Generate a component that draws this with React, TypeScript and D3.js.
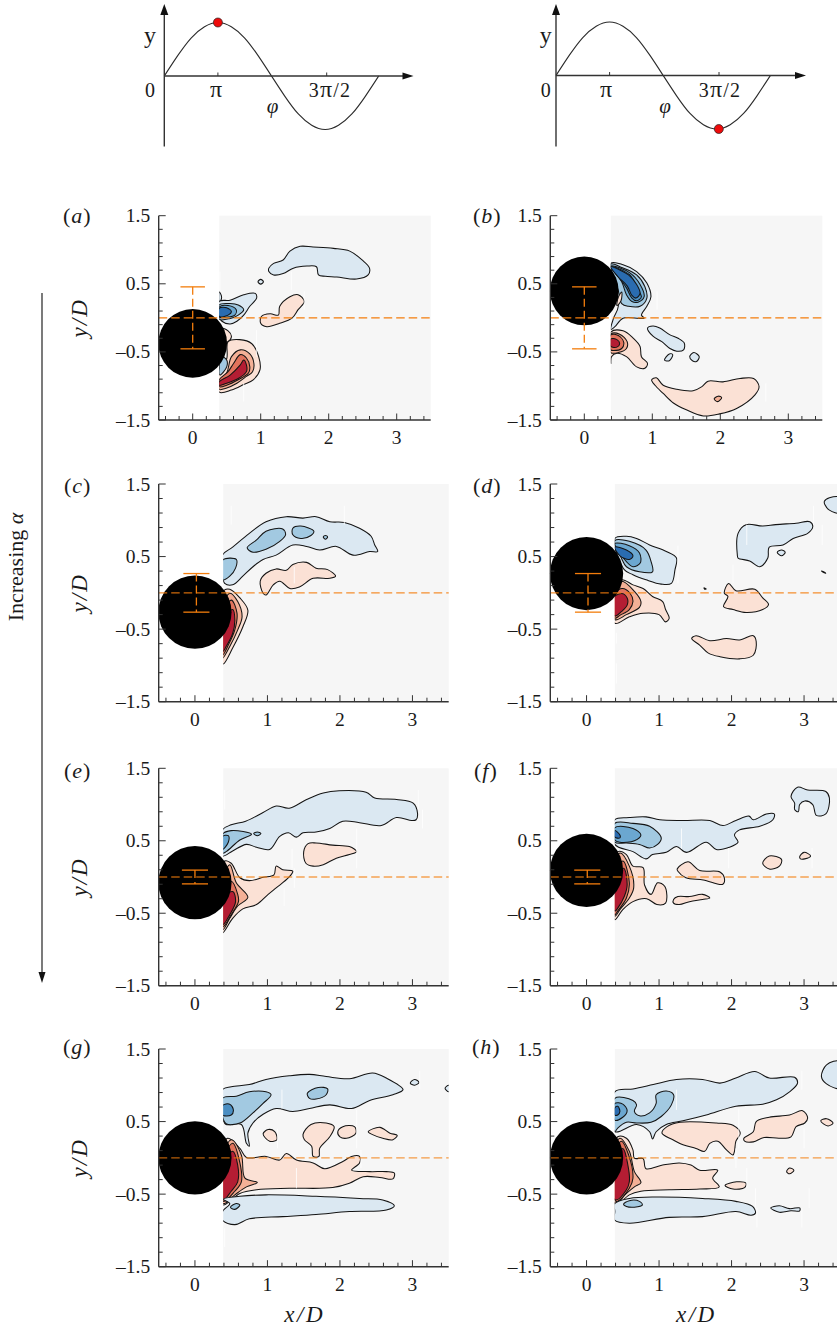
import React from 'react';
import * as d3 from 'd3';

type Pt = [number, number];
type Contour = [number, Pt[]];
type Streak = [number, number, number];

const FONT = '"Liberation Serif", "Times New Roman", serif';
const LEVEL_COLORS: Record<string, string> = {
  '-1': '#dbe8f2', '-2': '#a2c9e1', '-3': '#6ba7d0', '-4': '#4a8ec2', '-5': '#2a6cb0',
  '1': '#fbe1d5', '2': '#f4b096', '3': '#e1735c', '4': '#b41d33',
};

const contoursA: Contour[] = [
  [-1, [[1.12,0.73],[1.19,0.80],[1.33,0.85],[1.43,0.98],[1.58,1.05],[1.77,1.04],[2.07,1.02],[2.31,0.98],[2.49,0.85],[2.60,0.73],[2.58,0.63],[2.41,0.57],[2.12,0.60],[1.95,0.61],[1.85,0.63],[1.82,0.75],[1.68,0.76],[1.48,0.73],[1.33,0.65],[1.19,0.63],[1.12,0.68]]],
  [-1, [[0.96,0.53],[1.0,0.565],[1.04,0.53],[1.0,0.495]]],
  [-1, [[0.39,0.38],[0.42,0.33],[0.42,0.27],[0.39,0.24]]],
  [-1, [[0.39,0.24],[0.55,0.26],[0.75,0.34],[0.92,0.36],[0.94,0.29],[0.84,0.17],[0.75,0.04],[0.65,-0.05],[0.55,-0.09],[0.43,-0.05],[0.39,0.02]]],
  [-2, [[0.39,0.19],[0.55,0.21],[0.67,0.19],[0.75,0.12],[0.67,0.04],[0.55,-0.01],[0.39,-0.02]]],
  [-3, [[0.39,0.16],[0.52,0.18],[0.64,0.12],[0.62,0.04],[0.50,0.01],[0.39,0.01]]],
  [-5, [[0.39,0.14],[0.50,0.15],[0.57,0.09],[0.52,0.04],[0.39,0.02]]],
  [1, [[1.01,0.02],[1.14,0.06],[1.26,0.04],[1.28,0.17],[1.43,0.31],[1.55,0.34],[1.64,0.24],[1.55,0.12],[1.46,-0.005],[1.28,-0.08],[1.09,-0.13],[1.0,-0.08]]],
  [1, [[0.40,-0.15],[0.52,-0.19],[0.57,-0.27],[0.52,-0.35],[0.40,-0.32]]],
  [1, [[0.52,-0.35],[0.69,-0.32],[0.87,-0.38],[0.97,-0.57],[0.99,-0.76],[0.89,-0.91],[0.75,-0.98],[0.57,-1.06],[0.39,-1.09],[0.39,-0.75],[0.50,-0.6]]],
  [2, [[0.57,-0.57],[0.70,-0.47],[0.84,-0.53],[0.90,-0.67],[0.88,-0.79],[0.79,-0.86],[0.65,-0.96],[0.50,-1.03],[0.39,-1.05],[0.39,-0.94],[0.50,-0.81]]],
  [3, [[0.60,-0.67],[0.70,-0.54],[0.79,-0.59],[0.84,-0.72],[0.82,-0.81],[0.67,-0.91],[0.50,-0.99],[0.39,-1.01],[0.39,-0.91],[0.52,-0.79]]],
  [4, [[0.70,-0.69],[0.75,-0.62],[0.79,-0.69],[0.79,-0.79],[0.67,-0.89],[0.50,-0.96],[0.39,-0.99],[0.39,-0.94],[0.55,-0.84]]],
  [-2, [[0.43,-0.57],[0.50,-0.62],[0.50,-0.72],[0.40,-0.84],[0.39,-0.72]]],
];
const contoursB: Contour[] = [
  [-1, [[0.39,0.80],[0.57,0.78],[0.77,0.68],[0.92,0.51],[0.98,0.31],[0.92,0.17],[0.84,0.04],[0.88,-0.005],[0.57,-0.005],[0.45,-0.13],[0.39,-0.17],[0.43,-0.005],[0.5,0.17]]],
  [-2, [[0.39,0.79],[0.55,0.74],[0.77,0.63],[0.89,0.46],[0.92,0.29],[0.82,0.17],[0.65,0.17],[0.55,0.21],[0.5,0.4]]],
  [-3, [[0.39,0.76],[0.67,0.66],[0.82,0.49],[0.88,0.31],[0.79,0.23],[0.70,0.24],[0.62,0.34],[0.55,0.53]]],
  [-4, [[0.39,0.75],[0.67,0.63],[0.77,0.44],[0.84,0.31],[0.77,0.25],[0.70,0.29],[0.62,0.44],[0.52,0.58]]],
  [-5, [[0.39,0.75],[0.65,0.63],[0.77,0.49],[0.82,0.36],[0.76,0.29],[0.70,0.33],[0.63,0.47],[0.50,0.6]]],
  [1, [[0.5,0.3],[0.55,0.38],[0.54,0.25],[0.48,0.18]]],
  [-1, [[0.93,-0.15],[1.01,-0.12],[1.11,-0.15],[1.26,-0.25],[1.38,-0.30],[1.47,-0.37],[1.46,-0.47],[1.36,-0.49],[1.26,-0.45],[1.14,-0.35],[1.01,-0.27]]],
  [-1, [[1.18,-0.62],[1.25,-0.53],[1.30,-0.54],[1.25,-0.63]]],
  [-1, [[1.55,-0.57],[1.61,-0.51],[1.69,-0.57],[1.65,-0.64],[1.59,-0.63]]],
  [1, [[0.39,-0.21],[0.57,-0.19],[0.72,-0.30],[0.82,-0.42],[0.84,-0.57],[0.93,-0.67],[0.89,-0.74],[0.77,-0.72],[0.62,-0.57],[0.48,-0.52],[0.40,-0.57],[0.39,-0.67]]],
  [2, [[0.39,-0.24],[0.52,-0.24],[0.63,-0.35],[0.62,-0.45],[0.50,-0.51],[0.39,-0.51]]],
  [3, [[0.39,-0.25],[0.50,-0.26],[0.58,-0.36],[0.55,-0.45],[0.43,-0.48],[0.39,-0.47]]],
  [4, [[0.39,-0.31],[0.48,-0.32],[0.52,-0.38],[0.48,-0.43],[0.39,-0.42]]],
  [1, [[0.99,-0.91],[1.06,-0.88],[1.16,-0.99],[1.36,-1.05],[1.60,-1.07],[1.73,-1.01],[1.82,-0.93],[2.04,-0.94],[2.29,-0.89],[2.49,-0.89],[2.57,-1.01],[2.51,-1.13],[2.24,-1.33],[1.99,-1.41],[1.75,-1.44],[1.50,-1.35],[1.31,-1.25],[1.16,-1.11],[1.04,-0.99]]],
  [2, [[1.91,-1.19],[1.97,-1.15],[2.02,-1.17],[1.96,-1.23]]],
];
const contoursC: Contour[] = [
  [-1, [[0.38,0.52],[0.52,0.63],[0.75,0.82],[0.98,0.98],[1.26,1.05],[1.49,1.03],[1.67,1.05],[1.86,0.98],[2.06,0.97],[2.27,0.89],[2.43,0.78],[2.48,0.66],[2.52,0.57],[2.41,0.57],[2.18,0.52],[1.95,0.64],[1.72,0.59],[1.54,0.64],[1.35,0.66],[1.12,0.52],[0.94,0.46],[0.80,0.36],[0.66,0.23],[0.52,0.11],[0.41,0.13],[0.38,0.23]]],
  [-2, [[0.72,0.62],[0.85,0.73],[0.98,0.85],[1.21,0.88],[1.25,0.80],[1.17,0.71],[0.98,0.60],[0.80,0.56]]],
  [-2, [[1.35,0.89],[1.46,0.92],[1.64,0.85],[1.60,0.79],[1.46,0.75],[1.35,0.80]]],
  [-2, [[1.77,0.77],[1.80,0.79],[1.83,0.77],[1.80,0.74]]],
  [-2, [[0.38,0.45],[0.57,0.46],[0.56,0.34],[0.48,0.23],[0.38,0.18]]],
  [1, [[0.90,0.16],[0.98,0.27],[1.12,0.33],[1.26,0.31],[1.35,0.39],[1.54,0.42],[1.67,0.34],[1.83,0.32],[1.94,0.23],[1.86,0.20],[1.63,0.20],[1.44,0.08],[1.31,0.06],[1.17,0.16],[1.08,0.11],[0.98,-0.03],[0.94,-0.005]]],
  [1, [[0.41,0.04],[0.48,0.05],[0.62,-0.07],[0.73,-0.24],[0.66,-0.47],[0.52,-0.76],[0.39,-0.98],[0.36,-0.88],[0.36,-0.74],[0.3,-0.47],[0.3,-0.24]]],
  [2, [[0.48,-0.005],[0.59,-0.12],[0.65,-0.33],[0.59,-0.51],[0.48,-0.74],[0.38,-0.90],[0.36,-0.79],[0.3,-0.5]]],
  [3, [[0.50,-0.10],[0.58,-0.28],[0.55,-0.51],[0.46,-0.72],[0.38,-0.86],[0.36,-0.7],[0.3,-0.5]]],
  [4, [[0.52,-0.23],[0.55,-0.37],[0.52,-0.56],[0.43,-0.74],[0.38,-0.81],[0.3,-0.5]]],
];
const contoursD: Contour[] = [
  [-1, [[0.39,0.75],[0.55,0.78],[0.69,0.75],[0.87,0.66],[1.10,0.57],[1.24,0.48],[1.22,0.32],[1.17,0.13],[1.03,0.12],[0.82,0.18],[0.64,0.25],[0.52,0.32]]],
  [-2, [[0.39,0.72],[0.59,0.71],[0.82,0.59],[0.89,0.43],[0.91,0.29],[0.73,0.29],[0.55,0.36],[0.48,0.48]]],
  [-3, [[0.39,0.68],[0.59,0.65],[0.73,0.55],[0.74,0.41],[0.64,0.36],[0.55,0.43],[0.46,0.55]]],
  [-5, [[0.39,0.63],[0.55,0.59],[0.64,0.51],[0.59,0.46],[0.46,0.51]]],
  [1, [[0.48,0.18],[0.64,0.11],[0.78,0.06],[0.91,-0.05],[1.05,-0.12],[1.09,-0.23],[1.14,-0.35],[1.09,-0.40],[1.0,-0.30],[0.78,-0.28],[0.59,-0.33],[0.39,-0.42],[0.3,-0.1]]],
  [2, [[0.48,0.16],[0.66,0.02],[0.75,-0.12],[0.73,-0.20],[0.55,-0.30],[0.39,-0.37],[0.3,-0.1]]],
  [3, [[0.49,0.06],[0.60,-0.005],[0.64,-0.12],[0.59,-0.23],[0.46,-0.31],[0.39,-0.35],[0.3,-0.1]]],
  [4, [[0.48,-0.01],[0.56,-0.07],[0.56,-0.17],[0.48,-0.26],[0.39,-0.32],[0.3,-0.14]]],
  [-1, [[2.08,0.52],[2.09,0.82],[2.20,0.94],[2.43,0.92],[2.61,0.94],[2.89,0.96],[3.08,0.98],[3.12,0.91],[3.05,0.82],[2.85,0.75],[2.71,0.66],[2.52,0.63],[2.50,0.48],[2.39,0.36],[2.25,0.44],[2.09,0.48]]],
  [-1, [[2.63,0.56],[2.69,0.59],[2.74,0.56],[2.69,0.51]]],
  [-1, [[3.28,1.26],[3.35,1.31],[3.5,1.31],[3.5,1.10],[3.35,1.14],[3.29,1.21]]],
  [-1, [[3.24,0.30],[3.27,0.29],[3.30,0.27],[3.27,0.28]]],
  [-1, [[1.62,0.07],[1.64,0.06],[1.65,0.055],[1.63,0.05]]],
  [1, [[1.90,-0.005],[1.96,0.13],[2.06,0.03],[2.32,0.05],[2.43,-0.07],[2.51,-0.16],[2.43,-0.23],[2.20,-0.27],[2.02,-0.23],[1.89,-0.19],[1.95,-0.05]]],
  [1, [[1.45,-0.63],[1.51,-0.59],[1.70,-0.66],[1.93,-0.63],[2.11,-0.65],[2.30,-0.59],[2.34,-0.67],[2.30,-0.86],[2.11,-0.91],[1.84,-0.88],[1.68,-0.83],[1.56,-0.72]]],
];
const contoursE: Contour[] = [
  [-1, [[0.38,0.65],[0.50,0.72],[0.70,0.77],[0.94,0.89],[1.12,0.98],[1.30,0.95],[1.54,1.07],[1.77,1.16],[1.99,1.19],[2.36,1.17],[2.48,1.09],[2.78,1.07],[3.01,1.02],[3.07,0.88],[3.05,0.79],[2.99,0.78],[2.78,0.82],[2.57,0.71],[2.27,0.75],[2.04,0.77],[1.86,0.67],[1.67,0.62],[1.49,0.61],[1.40,0.55],[1.29,0.61],[1.17,0.56],[1.03,0.38],[0.85,0.41],[0.71,0.45],[0.52,0.36],[0.38,0.29]]],
  [-2, [[0.38,0.59],[0.50,0.64],[0.78,0.59],[0.62,0.51],[0.43,0.35],[0.38,0.33]]],
  [-3, [[0.38,0.56],[0.46,0.57],[0.46,0.48],[0.38,0.38]]],
  [-2, [[0.81,0.60],[0.86,0.62],[0.91,0.60],[0.86,0.57]]],
  [1, [[0.41,0.22],[0.50,0.19],[0.62,-0.01],[0.75,-0.05],[0.94,-0.005],[1.09,0.03],[1.12,0.15],[1.21,0.10],[1.35,0.08],[1.29,-0.01],[1.12,-0.15],[1.01,-0.24],[0.85,-0.38],[0.66,-0.44],[0.52,-0.57],[0.38,-0.77],[0.36,-0.61],[0.3,-0.34]]],
  [2, [[0.48,0.17],[0.57,-0.08],[0.73,-0.28],[0.59,-0.40],[0.48,-0.57],[0.38,-0.73],[0.3,-0.4]]],
  [3, [[0.50,-0.06],[0.59,-0.24],[0.60,-0.34],[0.50,-0.52],[0.38,-0.69],[0.3,-0.4]]],
  [4, [[0.52,-0.20],[0.56,-0.34],[0.48,-0.52],[0.38,-0.66],[0.3,-0.4]]],
  [1, [[1.50,0.35],[1.56,0.46],[1.67,0.47],[1.90,0.44],[2.13,0.42],[2.23,0.35],[2.13,0.31],[1.95,0.26],[1.77,0.17],[1.63,0.15],[1.53,0.19]]],
];
const contoursF: Contour[] = [
  [-1, [[0.39,0.79],[0.59,0.82],[0.82,0.83],[1.01,0.79],[1.33,0.78],[1.70,0.78],[1.88,0.71],[2.06,0.78],[2.24,0.84],[2.30,0.79],[2.48,0.87],[2.59,0.87],[2.57,0.79],[2.39,0.70],[2.11,0.65],[2.04,0.58],[2.09,0.48],[1.97,0.41],[1.79,0.38],[1.65,0.48],[1.38,0.34],[1.24,0.42],[1.10,0.34],[0.91,0.31],[0.82,0.25],[0.64,0.35],[0.39,0.45]]],
  [-2, [[0.39,0.74],[0.64,0.74],[0.87,0.70],[1.03,0.54],[0.98,0.45],[0.87,0.40],[0.73,0.45],[0.55,0.47],[0.39,0.48]]],
  [-3, [[0.39,0.68],[0.64,0.67],[0.75,0.58],[0.66,0.50],[0.46,0.48],[0.39,0.51]]],
  [-5, [[0.39,0.64],[0.46,0.58],[0.46,0.54],[0.39,0.55]]],
  [1, [[0.43,0.35],[0.55,0.31],[0.64,0.15],[0.78,0.13],[0.80,-0.11],[0.89,-0.24],[0.98,-0.08],[1.08,-0.13],[1.09,-0.36],[0.97,-0.38],[0.83,-0.30],[0.64,-0.34],[0.50,-0.45],[0.39,-0.59],[0.36,-0.4],[0.3,-0.06]]],
  [2, [[0.46,0.33],[0.59,0.15],[0.65,-0.15],[0.59,-0.29],[0.46,-0.45],[0.39,-0.54],[0.3,-0.2]]],
  [3, [[0.50,0.22],[0.59,-0.08],[0.55,-0.29],[0.43,-0.47],[0.39,-0.52],[0.3,-0.2]]],
  [4, [[0.51,0.12],[0.56,-0.11],[0.52,-0.27],[0.43,-0.43],[0.39,-0.47],[0.3,-0.2]]],
  [1, [[1.25,0.11],[1.40,0.21],[1.56,0.09],[1.84,0.07],[1.90,-0.01],[1.88,-0.10],[1.61,-0.04],[1.37,-0.01],[1.26,0.08]]],
  [1, [[1.20,-0.31],[1.26,-0.27],[1.42,-0.27],[1.60,-0.24],[1.70,-0.29],[1.60,-0.31],[1.42,-0.34],[1.28,-0.38],[1.20,-0.36]]],
  [1, [[2.43,0.19],[2.52,0.29],[2.69,0.24],[2.66,0.15],[2.52,0.11]]],
  [1, [[2.94,0.28],[3.00,0.34],[3.09,0.29],[3.01,0.25],[2.95,0.25]]],
  [-1, [[2.82,1.11],[2.91,1.24],[3.05,1.20],[3.30,1.18],[3.35,1.09],[3.30,0.87],[3.17,0.85],[3.12,1.00],[3.01,1.05],[2.94,1.00],[2.92,0.90],[2.87,0.93],[2.87,1.02]]],
];
const contoursG: Contour[] = [
  [-1, [[0.38,0.94],[0.50,0.98],[0.75,1.01],[0.98,1.08],[1.30,1.13],[1.58,1.15],[1.81,1.12],[2.13,1.09],[2.45,1.17],[2.64,1.10],[2.87,0.94],[2.73,0.87],[2.41,0.79],[2.16,0.68],[1.86,0.73],[1.58,0.68],[1.35,0.64],[1.12,0.68],[0.94,0.60],[0.80,0.48],[0.73,0.34],[0.75,0.16],[0.71,0.20],[0.64,0.46],[0.43,0.46],[0.38,0.55]]],
  [-2, [[0.38,0.82],[0.57,0.85],[0.75,0.91],[0.98,0.91],[1.05,0.87],[0.94,0.75],[0.80,0.62],[0.62,0.48],[0.43,0.47],[0.38,0.57]]],
  [-4, [[0.38,0.72],[0.48,0.74],[0.53,0.66],[0.50,0.59],[0.38,0.59]]],
  [-2, [[1.55,0.89],[1.70,0.97],[1.83,0.95],[1.81,0.87],[1.67,0.81],[1.58,0.82]]],
  [-1, [[2.97,1.03],[3.03,1.08],[3.09,1.04],[3.03,1.00]]],
  [-1, [[3.45,0.96],[3.50,1.00],[3.54,0.96],[3.50,0.91]]],
  [1, [[0.94,0.33],[1.01,0.39],[1.10,0.36],[1.13,0.25],[1.03,0.23]]],
  [1, [[1.49,0.32],[1.60,0.46],[1.81,0.48],[1.92,0.43],[1.86,0.29],[1.72,0.13],[1.71,0.02],[1.63,0.02],[1.61,0.16],[1.51,0.25]]],
  [1, [[1.97,0.36],[2.04,0.43],[2.20,0.43],[2.22,0.34],[2.09,0.27],[2.00,0.29]]],
  [1, [[2.39,0.36],[2.55,0.42],[2.69,0.34],[2.79,0.31],[2.73,0.25],[2.59,0.27],[2.45,0.32]]],
  [1, [[0.45,0.27],[0.62,0.13],[0.71,0.005],[0.98,0.02],[1.17,-0.03],[1.26,0.06],[1.40,-0.03],[1.63,-0.07],[1.79,-0.15],[2.04,-0.05],[2.16,0.02],[2.27,0.02],[2.27,-0.07],[2.16,-0.17],[2.41,-0.19],[2.64,-0.19],[2.75,-0.21],[2.73,-0.29],[2.55,-0.27],[2.32,-0.26],[2.13,-0.35],[1.90,-0.41],[1.30,-0.42],[0.85,-0.44],[0.62,-0.49],[0.39,-0.65],[0.36,-0.51],[0.3,-0.19]]],
  [2, [[0.50,0.25],[0.64,0.04],[0.69,-0.28],[0.86,-0.34],[0.71,-0.40],[0.55,-0.51],[0.39,-0.63],[0.3,-0.3]]],
  [3, [[0.52,0.20],[0.62,-0.07],[0.64,-0.33],[0.55,-0.46],[0.39,-0.60],[0.3,-0.3]]],
  [4, [[0.52,0.09],[0.59,-0.10],[0.59,-0.33],[0.50,-0.46],[0.39,-0.58],[0.3,-0.3]]],
  [-1, [[0.39,-0.57],[0.62,-0.53],[0.98,-0.51],[1.67,-0.53],[2.27,-0.56],[2.59,-0.58],[2.75,-0.66],[2.64,-0.72],[2.13,-0.74],[1.67,-0.78],[1.21,-0.81],[0.75,-0.84],[0.55,-0.92],[0.38,-0.86],[0.38,-0.74],[0.48,-0.63]]],
  [-2, [[0.49,-0.68],[0.57,-0.63],[0.62,-0.65],[0.55,-0.71]]],
];
const contoursH: Contour[] = [
  [-1, [[0.39,0.91],[0.64,0.95],[0.92,1.01],[1.24,1.08],[1.60,1.08],[1.84,1.03],[2.06,1.10],[2.32,1.19],[2.52,1.10],[2.87,1.11],[2.91,1.03],[2.80,0.91],[2.62,0.80],[2.43,0.74],[2.06,0.71],[1.65,0.59],[1.33,0.51],[1.10,0.46],[0.96,0.36],[0.91,0.26],[0.87,0.36],[0.69,0.46],[0.39,0.36]]],
  [-2, [[0.39,0.82],[0.64,0.79],[0.69,0.73],[0.66,0.64],[0.73,0.58],[0.87,0.62],[0.96,0.75],[0.96,0.87],[1.10,0.92],[1.20,0.87],[1.17,0.73],[1.03,0.57],[0.89,0.49],[0.69,0.48],[0.55,0.49],[0.43,0.41],[0.39,0.36]]],
  [-3, [[0.39,0.75],[0.50,0.74],[0.56,0.65],[0.50,0.56],[0.39,0.52]]],
  [-5, [[0.39,0.69],[0.43,0.71],[0.46,0.64],[0.43,0.59],[0.39,0.59]]],
  [-1, [[3.24,1.12],[3.31,1.28],[3.5,1.33],[3.5,0.96],[3.31,1.02]]],
  [1, [[1.04,0.34],[1.11,0.43],[1.29,0.49],[1.79,0.48],[2.02,0.45],[2.12,0.34],[2.06,0.23],[2.04,0.09],[2.02,0.04],[1.93,0.11],[1.81,0.23],[1.70,0.20],[1.63,0.09],[1.51,0.13],[1.33,0.18],[1.19,0.25]]],
  [1, [[2.17,0.27],[2.30,0.36],[2.34,0.50],[2.52,0.56],[2.80,0.59],[2.98,0.65],[3.05,0.55],[3.01,0.48],[2.89,0.43],[2.82,0.29],[2.66,0.27],[2.45,0.28],[2.30,0.22],[2.18,0.23]]],
  [1, [[3.23,0.51],[3.31,0.54],[3.40,0.48],[3.33,0.44]]],
  [1, [[2.76,-0.19],[2.80,-0.14],[2.86,-0.17],[2.80,-0.22]]],
  [1, [[1.91,-0.38],[2.07,-0.33],[2.20,-0.35],[2.18,-0.41],[2.02,-0.43]]],
  [-1, [[2.54,-0.69],[2.66,-0.66],[2.80,-0.70],[2.94,-0.69],[2.94,-0.73],[2.82,-0.73],[2.66,-0.75]]],
  [1, [[0.43,0.29],[0.55,0.27],[0.64,0.11],[0.66,-0.005],[0.78,-0.01],[0.82,-0.15],[1.05,-0.10],[1.28,-0.07],[1.44,-0.10],[1.56,-0.17],[1.81,-0.17],[1.74,-0.28],[1.83,-0.40],[1.56,-0.43],[1.14,-0.44],[0.75,-0.46],[0.59,-0.51],[0.41,-0.65],[0.36,-0.56],[0.3,-0.23]]],
  [2, [[0.46,0.27],[0.59,0.09],[0.66,-0.19],[0.75,-0.34],[0.66,-0.40],[0.55,-0.49],[0.40,-0.63],[0.3,-0.23]]],
  [3, [[0.48,0.23],[0.58,0.04],[0.64,-0.28],[0.59,-0.42],[0.41,-0.60],[0.3,-0.25]]],
  [4, [[0.50,0.13],[0.57,-0.10],[0.59,-0.33],[0.55,-0.44],[0.40,-0.58],[0.3,-0.25]]],
  [-1, [[0.39,-0.63],[0.59,-0.56],[0.96,-0.54],[1.60,-0.56],[2.06,-0.60],[2.29,-0.67],[2.33,-0.76],[2.27,-0.79],[2.06,-0.74],[1.60,-0.81],[1.14,-0.82],[0.59,-0.90],[0.39,-0.86],[0.39,-0.74]]],
  [-2, [[0.51,-0.64],[0.59,-0.59],[0.73,-0.60],[0.77,-0.65],[0.66,-0.68],[0.55,-0.67]]],
];

const streaksA: Streak[] = [[0.40,0.68,0.4],[1.45,0.68,0.41],[1.64,0.39,0.12],[0.94,-0.18,-0.57],[0.75,-0.96,-1.23]];
const streaksB: Streak[] = [[1.07,0.39,0.12],[2.67,-0.96,-1.23]];
const streaksC: Streak[] = [[0.5,1.2,0.94],[2.06,1.2,0.94],[1.37,0.36,0.13]];
const streaksD: Streak[] = [[2.21,0.94,0.66],[3.13,1.2,0.94],[3.25,0.94,0.66],[1.26,0.65,0.13],[2.02,0.39,0.13],[0.41,-0.55,-0.7],[0.41,-0.97,-1.25]];
const streaksE: Streak[] = [[0.41,1.2,0.93],[3.08,1.2,0.93],[3.14,0.93,0.67],[2.23,0.67,0.12],[1.34,0.39,0.12],[1.37,0.12,-0.15],[1.23,-0.15,-0.4]];
const streaksF: Streak[] = [[1.31,0.67,0.39],[1.96,0.4,0.12],[3.11,0.4,0.12]];
const streaksG: Streak[] = [[1.2,0.94,0.68],[3.1,1.2,0.94],[2.23,0.66,0.13],[1.14,0.4,0.13],[1.4,-0.14,-0.42],[2.29,0.11,-0.14],[0.41,-0.97,-1.23]];
const streaksH: Streak[] = [[1.24,0.94,0.66],[2.1,0.68,0.13],[2.97,1.2,0.94],[3.0,0.41,0.13],[2.06,0.13,-0.14],[2.21,-0.14,-0.42],[2.33,-0.42,-0.69],[2.35,-0.69,-0.96],[2.97,-0.69,-0.96],[3.07,-0.42,-0.69]];

const panelLetters = ['a','b','c','d','e','f','g','h'];
const cylinderCentres = [-0.375, 0.395, -0.266, 0.266, -0.078, 0.09, 0, 0];
const errorHalfAmplitudes = [0.455, 0.455, 0.266, 0.266, 0.095, 0.095, 0, 0];
const errorCentres = [0, 0, 0.02, 0.02, 0, 0.01, 0, 0];
const contourSets = [contoursA, contoursB, contoursC, contoursD, contoursE, contoursF, contoursG, contoursH];
const streakSets = [streaksA, streaksB, streaksC, streaksD, streaksE, streaksF, streaksG, streaksH];
const zeroLineOpacity = [1, 1, 0.85, 0.85, 0.7, 0.7, 0.75, 0.75];

const schematicPhase = [0, 0.125, 0.25, 0.375, 0.5, 0.625, 0.75, 0.875, 1, 1.125, 1.25, 1.375, 1.5, 1.625, 1.75, 1.875, 2];
const schematicValue = [0, 0.38, 0.71, 0.92, 1, 0.92, 0.71, 0.38, 0, -0.38, -0.71, -0.92, -1, -0.92, -0.71, -0.38, 0];

const layout = [
  { left: 158.7, width: 272, top: 215.7, bottom: 420, labelX: 63, labelY: 223 },
  { left: 550.3, width: 272, top: 215.7, bottom: 420, labelX: 473, labelY: 223 },
  { left: 158.7, width: 290, top: 484, bottom: 701.7, labelX: 64, labelY: 493 },
  { left: 550.3, width: 290, top: 484, bottom: 701.7, labelX: 473, labelY: 493 },
  { left: 158.7, width: 290, top: 768.3, bottom: 985.7, labelX: 64, labelY: 778 },
  { left: 550.3, width: 290, top: 768.3, bottom: 985.7, labelX: 474, labelY: 778 },
  { left: 158.7, width: 290, top: 1049, bottom: 1266.7, labelX: 63, labelY: 1054 },
  { left: 550.3, width: 290, top: 1049, bottom: 1266.7, labelX: 472, labelY: 1054 },
];

const ORANGE = '#f37d0c';
const AXIS = '#333333';
const xMinor = d3.range(-0.4, 3.5, 0.2).map((v) => Math.round(v * 10) / 10);
const yMinor = d3.range(-1.5, 1.55, 0.2).map((v) => Math.round(v * 10) / 10);
const xLabels = [0, 1, 2, 3];
const yLabels = [1.5, 0.5, -0.5, -1.5];

function Panel({ i }: { i: number }) {
  const g = layout[i];
  const x = d3.scaleLinear().domain([-0.5, 3.5]).range([g.left, g.left + g.width]);
  const y = d3.scaleLinear().domain([-1.5, 1.5]).range([g.bottom, g.top]);
  const path = d3.line<Pt>().x((d) => x(d[0])).y((d) => y(d[1])).curve(d3.curveCatmullRomClosed.alpha(0.5));
  const cx = x(0);
  const cy = y(cylinderCentres[i]);
  const rad = Math.abs(x(0.505) - x(0));
  const amp = errorHalfAmplitudes[i];
  const ex = x(errorCentres[i]);
  const capHalf = Math.abs(x(0.18) - x(0));
  const gx = x(0.39);
  return (
    <g>
      <clipPath id={`clip-${i}`}>
        <rect x={gx} y={g.top} width={x(3.5) - gx} height={g.bottom - g.top} />
      </clipPath>
      <rect x={gx} y={g.top} width={x(3.5) - gx} height={g.bottom - g.top} fill="#f6f6f6" />
      <g clipPath={`url(#clip-${i})`}>
        {contourSets[i].map(([lev, pts], k) => (
          <path key={k} d={path(pts) || ''} fill={LEVEL_COLORS[String(lev)]} stroke="#141414" strokeWidth={1.05} strokeLinejoin="round" />
        ))}
        {streakSets[i].map(([sx, a, b], k) => (
          <line key={k} x1={x(sx)} x2={x(sx)} y1={y(a)} y2={y(b)} stroke="#ffffff" strokeWidth={0.8} />
        ))}
      </g>
      <circle cx={cx} cy={cy} r={rad} fill="#000" />
      <line x1={x(-0.5)} x2={x(3.5)} y1={y(0)} y2={y(0)} stroke={ORANGE} strokeWidth={1.4} strokeOpacity={zeroLineOpacity[i]} strokeDasharray="8.5,4" />
      {amp > 0 && (
        <g stroke={ORANGE} strokeWidth={1.3} fill="none">
          <line x1={ex} x2={ex} y1={y(amp)} y2={y(-amp)} strokeDasharray="8,4" />
          <line x1={ex - capHalf} x2={ex + capHalf} y1={y(amp)} y2={y(amp)} />
          <line x1={ex - capHalf} x2={ex + capHalf} y1={y(-amp)} y2={y(-amp)} />
        </g>
      )}
      <line x1={g.left} x2={g.left} y1={g.top} y2={g.bottom} stroke={AXIS} strokeWidth={1.4} />
      <line x1={g.left} x2={x(3.5)} y1={g.bottom} y2={g.bottom} stroke={AXIS} strokeWidth={1.4} />
      {xMinor.map((v) => (
        <line key={v} x1={x(v)} x2={x(v)} y1={g.bottom} y2={g.bottom - (Number.isInteger(v) ? 6.5 : 4)} stroke={AXIS} strokeWidth={1} />
      ))}
      {yMinor.map((v) => (
        <line key={v} x1={g.left} x2={g.left + (yLabels.includes(v) ? 7 : 4)} y1={y(v)} y2={y(v)} stroke={AXIS} strokeWidth={1} />
      ))}
      {xLabels.map((v) => (
        <text key={v} x={x(v)} y={g.bottom + 24} textAnchor="middle" fontSize={19.5}>{v}</text>
      ))}
      {yLabels.map((v) => (
        <text key={v} x={g.left - 8.5} y={y(v) + 6.5} textAnchor="end" fontSize={19.5}>{v < 0 ? `–${Math.abs(v)}` : v}</text>
      ))}
      <text x={g.labelX} y={g.labelY} fontSize={22} letterSpacing={1}>(<tspan fontStyle="italic">{panelLetters[i]}</tspan>)</text>
      {i % 2 === 0 && (
        <text transform={`translate(87,${(g.top + g.bottom) / 2}) rotate(-90)`} textAnchor="middle" fontSize={23} fontStyle="italic" letterSpacing={2}>y/D</text>
      )}
      {i >= 6 && (
        <text x={(g.left + x(3.5)) / 2 + 1} y={1322} textAnchor="middle" fontSize={23} fontStyle="italic" letterSpacing={2.5}>x/D</text>
      )}
    </g>
  );
}

function Schematic({ axisX, axisY, tipX, tickB, labels, dot, piX, triX, phiX, topY }: any) {
  const x = d3.scaleLinear().domain([0, 2]).range([axisX, axisX + 214.4]);
  const y = d3.scaleLinear().domain([-1, 1]).range([axisY + 53.5, axisY - 53.5]);
  const line = d3.line<number>().x((_, k) => x(schematicPhase[k])).y((d) => y(d)).curve(d3.curveNatural);
  const dotK = schematicPhase.indexOf(dot);
  return (
    <g>
      <path d={line(schematicValue) || ''} fill="none" stroke="#2b2b2b" strokeWidth={1.1} />
      <line x1={axisX} x2={axisX} y1={topY + 8} y2={146.5} stroke={AXIS} strokeWidth={1.4} />
      <line x1={axisX} x2={tipX - 8} y1={axisY} y2={axisY} stroke={AXIS} strokeWidth={1.4} />
      <path d={`M${axisX - 4},${topY + 10}L${axisX},${topY - 1}L${axisX + 4},${topY + 10}Z`} fill="#111" />
      <path d={`M${tipX - 11},${axisY - 3.5}L${tipX},${axisY}L${tipX - 11},${axisY + 3.5}Z`} fill="#111" />
      <line x1={x(0.5)} x2={x(0.5)} y1={axisY - 3.5} y2={axisY} stroke={AXIS} />
      <line x1={tickB} x2={tickB} y1={axisY - 3.5} y2={axisY} stroke={AXIS} />
      <text x={labels} y={43} textAnchor="middle" fontSize={24}>y</text>
      <text x={labels} y={97} textAnchor="middle" fontSize={20}>0</text>
      <text x={piX} y={97} textAnchor="middle" fontSize={24}>π</text>
      <text x={triX} y={97} textAnchor="middle" fontSize={20} letterSpacing={1.2}>3<tspan fontSize={24}>π</tspan>/2</text>
      <text x={phiX} y={113} textAnchor="middle" fontSize={21} fontStyle="italic">φ</text>
      <circle cx={x(schematicPhase[dotK]) + (dot > 1 ? 2 : 0)} cy={y(schematicValue[dotK])} r={4.5} fill="#ee0b0b" stroke="#222" strokeWidth={0.7} />
    </g>
  );
}

export default function App() {
  return (
    <svg width={837} height={1328} style={{ position: 'absolute', left: 0, top: 0, fontFamily: FONT }} fill="#1a1a1a">
      <rect width={837} height={1328} fill="#fff" />
      <Schematic axisX={164.3} axisY={76} tipX={413.5} tickB={326.7} labels={150} dot={0.5} piX={216} triX={330} phiX={272.5} topY={5} />
      <Schematic axisX={556} axisY={75.5} tipX={806} tickB={719} labels={545.7} dot={1.5} piX={606} triX={720} phiX={665} topY={5} />
      <line x1={42} x2={42} y1={293} y2={974} stroke={AXIS} strokeWidth={1.3} />
      <path d="M38.5,972L42,983L45.5,972Z" fill="#111" />
      <text transform="translate(23,567) rotate(-90)" textAnchor="middle" fontSize={22}>Increasing <tspan fontStyle="italic">α</tspan></text>
      {panelLetters.map((_, i) => <Panel key={i} i={i} />)}
    </svg>
  );
}
